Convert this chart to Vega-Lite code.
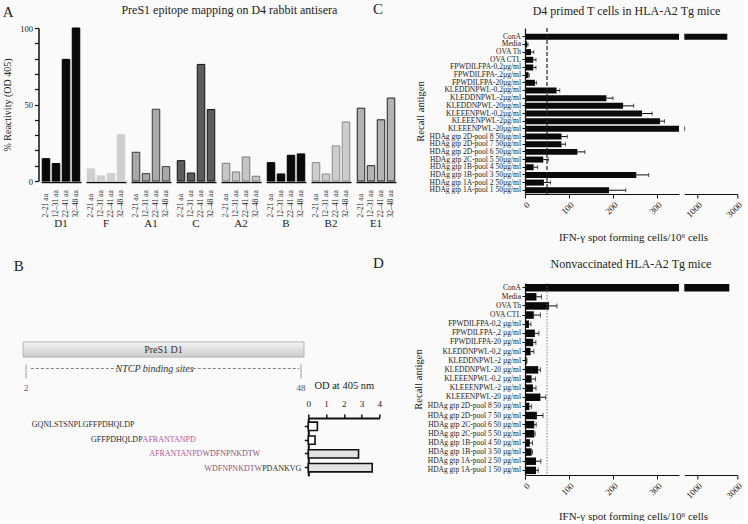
{
  "$schema": "https://vega.github.io/schema/vega-lite/v6.json",
  "background": "#fafafa",
  "padding": {"left": 2, "top": 2, "right": 0, "bottom": 0},
  "config": {
    "font": "Liberation Serif",
    "view": {"stroke": null},
    "axis": {"grid": false, "domainColor": "#111", "tickColor": "#111", "labelColor": "#222", "titleColor": "#222", "titleFontWeight": "normal", "labelFont": "Liberation Serif", "titleFont": "Liberation Serif"},
    "header": {"labelFont": "Liberation Serif", "titleFont": "Liberation Serif", "labelColor": "#222"},
    "title": {"font": "Liberation Serif", "fontWeight": "normal", "color": "#222"}
  },
  "datasets": {
    "A": [
      {"group": "D1", "fragment": "2–21 aa", "reactivity": 14.6},
      {"group": "D1", "fragment": "12–31 aa", "reactivity": 11.4},
      {"group": "D1", "fragment": "22–41 aa", "reactivity": 79.5},
      {"group": "D1", "fragment": "32–48 aa", "reactivity": 100},
      {"group": "F", "fragment": "2–21 aa", "reactivity": 7.9},
      {"group": "F", "fragment": "12–31 aa", "reactivity": 3.3},
      {"group": "F", "fragment": "22–41 aa", "reactivity": 4.8},
      {"group": "F", "fragment": "32–48 aa", "reactivity": 30.3},
      {"group": "A1", "fragment": "2–21 aa", "reactivity": 18.8},
      {"group": "A1", "fragment": "12–31 aa", "reactivity": 4.8},
      {"group": "A1", "fragment": "22–41 aa", "reactivity": 46.9},
      {"group": "A1", "fragment": "32–48 aa", "reactivity": 9.4},
      {"group": "C", "fragment": "2–21 aa", "reactivity": 13.3},
      {"group": "C", "fragment": "12–31 aa", "reactivity": 5.2},
      {"group": "C", "fragment": "22–41 aa", "reactivity": 76.2},
      {"group": "C", "fragment": "32–48 aa", "reactivity": 46.7},
      {"group": "A2", "fragment": "2–21 aa", "reactivity": 11.6},
      {"group": "A2", "fragment": "12–31 aa", "reactivity": 5.9},
      {"group": "A2", "fragment": "22–41 aa", "reactivity": 15.7},
      {"group": "A2", "fragment": "32–48 aa", "reactivity": 3.1},
      {"group": "B", "fragment": "2–21 aa", "reactivity": 12},
      {"group": "B", "fragment": "12–31 aa", "reactivity": 4.6},
      {"group": "B", "fragment": "22–41 aa", "reactivity": 16.8},
      {"group": "B", "fragment": "32–48 aa", "reactivity": 17.7},
      {"group": "B2", "fragment": "2–21 aa", "reactivity": 12},
      {"group": "B2", "fragment": "12–31 aa", "reactivity": 4.6},
      {"group": "B2", "fragment": "22–41 aa", "reactivity": 22.9},
      {"group": "B2", "fragment": "32–48 aa", "reactivity": 38.6},
      {"group": "E1", "fragment": "2–21 aa", "reactivity": 47.6},
      {"group": "E1", "fragment": "12–31 aa", "reactivity": 10},
      {"group": "E1", "fragment": "22–41 aa", "reactivity": 40},
      {"group": "E1", "fragment": "32–48 aa", "reactivity": 54.2}
    ],
    "peps": [
      {"peptide": "2–21", "seq": "GQNLSTSNPL", "side": "N", "boundary": 11.5, "motif": "other"},
      {"peptide": "2–21", "seq": "GFFPDHQLDP", "side": "C", "boundary": 11.5, "motif": "other"},
      {"peptide": "12–31", "seq": "GFFPDHQLDP", "side": "N", "boundary": 21.5, "motif": "other"},
      {"peptide": "12–31", "seq": "AFRANTANPD", "side": "C", "boundary": 21.5, "motif": "AFRANTANPD"},
      {"peptide": "22–41", "seq": "AFRANTANPD", "side": "N", "boundary": 31.5, "motif": "AFRANTANPD"},
      {"peptide": "22–41", "seq": "WDFNPNKDTW", "side": "C", "boundary": 31.5, "motif": "WDFNPNKDTW"},
      {"peptide": "32–48", "seq": "WDFNPNKDTW", "side": "N", "boundary": 41.5, "motif": "WDFNPNKDTW"},
      {"peptide": "32–48", "seq": "PDANKVG", "side": "C", "boundary": 41.5, "motif": "other"}
    ],
    "od": [
      {"peptide": "2–21", "od": 0.51},
      {"peptide": "12–31", "od": 0.38},
      {"peptide": "22–41", "od": 2.83},
      {"peptide": "32–48", "od": 3.6}
    ],
    "C": [
      {"antigen": "ConA", "ifn": 2500, "upper": null},
      {"antigen": "Media", "ifn": 5, "upper": 7},
      {"antigen": "OVA Th", "ifn": 13.6, "upper": 20},
      {"antigen": "OVA CTL", "ifn": 18.8, "upper": 25},
      {"antigen": "FPWDILFPA-0,2µg/ml", "ifn": 18.8, "upper": 25},
      {"antigen": "FPWDILFPA-,2µg/ml", "ifn": 8, "upper": 10},
      {"antigen": "FPWDILFPA-20µg/ml", "ifn": 22.6, "upper": 26},
      {"antigen": "KLEDDNPWL-0,2µg/ml", "ifn": 71.7, "upper": 79},
      {"antigen": "KLEDDNPWL-2µg/ml", "ifn": 185, "upper": 200},
      {"antigen": "KLEDDNPWL-20µg/ml", "ifn": 223, "upper": 247},
      {"antigen": "KLEEENPWL-0,2µg/ml", "ifn": 266, "upper": 289},
      {"antigen": "KLEEENPWL-2µg/ml", "ifn": 307, "upper": 317},
      {"antigen": "KLEEENPWL-20µg/ml", "ifn": 352, "upper": 365},
      {"antigen": "HDAg gtp 2D-pool 8 50µg/ml", "ifn": 83, "upper": 96},
      {"antigen": "HDAg gtp 2D-pool 7 50µg/ml", "ifn": 83, "upper": 92},
      {"antigen": "HDAg gtp 2D-pool 6 50µg/ml", "ifn": 119, "upper": 136},
      {"antigen": "HDAg gtp 2C-pool 5 50µg/ml", "ifn": 41.5, "upper": 53},
      {"antigen": "HDAg gtp 1B-pool 4 50µg/ml", "ifn": 19.6, "upper": 28.6},
      {"antigen": "HDAg gtp 1B-pool 3 50µg/ml", "ifn": 253, "upper": 281},
      {"antigen": "HDAg gtp 1A-pool 2 50µg/ml", "ifn": 43, "upper": 58},
      {"antigen": "HDAg gtp 1A-pool 1 50µg/ml", "ifn": 191, "upper": 229}
    ],
    "D": [
      {"antigen": "ConA", "ifn": 2600, "upper": null},
      {"antigen": "Media", "ifn": 26, "upper": 37.5},
      {"antigen": "OVA Th", "ifn": 54.7, "upper": 72.7},
      {"antigen": "OVA CTL", "ifn": 20, "upper": 35},
      {"antigen": "FPWDILFPA-0,2 µg/ml", "ifn": 9, "upper": 13.5},
      {"antigen": "FPWDILFPA-,2 µg/ml", "ifn": 22.5, "upper": 31.5},
      {"antigen": "FPWDILFPA-20 µg/ml", "ifn": 18.7, "upper": 24.7},
      {"antigen": "KLEDDNPWL-0,2 µg/ml", "ifn": 12.7, "upper": 20},
      {"antigen": "KLEDDNPWL-2 µg/ml", "ifn": 3.7, "upper": 4.5},
      {"antigen": "KLEDDNPWL-20 µg/ml", "ifn": 30, "upper": 35},
      {"antigen": "KLEEENPWL-0,2 µg/ml", "ifn": 15, "upper": 24},
      {"antigen": "KLEEENPWL-2 µg/ml", "ifn": 18, "upper": 25},
      {"antigen": "KLEEENPWL-20 µg/ml", "ifn": 35, "upper": 47},
      {"antigen": "HDAg gtp 2D-pool 8 50 µg/ml", "ifn": 10, "upper": 15},
      {"antigen": "HDAg gtp 2D-pool 7 50 µg/ml", "ifn": 27, "upper": 41},
      {"antigen": "HDAg gtp 2C-pool 6 50 µg/ml", "ifn": 21, "upper": 25.5},
      {"antigen": "HDAg gtp 2C-pool 5 50 µg/ml", "ifn": 21, "upper": 23},
      {"antigen": "HDAg gtp 1B-pool 4 50 µg/ml", "ifn": 11, "upper": 17},
      {"antigen": "HDAg gtp 1B-pool 3 50 µg/ml", "ifn": 15, "upper": 17},
      {"antigen": "HDAg gtp 1A-pool 2 50 µg/ml", "ifn": 25, "upper": 36},
      {"antigen": "HDAg gtp 1A-pool 1 50 µg/ml", "ifn": 25, "upper": 30}
    ]
  },
  "resolve": {"scale": {"color": "independent"}},
  "spacing": -23,
  "hconcat": [
    {
      "title": {"text": "A", "anchor": "start", "fontSize": 15, "offset": -16},
      "resolve": {"scale": {"color": "independent"}},
      "spacing": 30,
      "vconcat": [
        {
          "data": {"name": "A"},
          "title": {"text": "PreS1 epitope mapping on D4 rabbit antisera", "fontSize": 12, "anchor": "middle", "frame": "bounds", "dx": 30, "offset": 7},
          "facet": {"column": {"field": "group", "type": "nominal", "sort": ["D1", "F", "A1", "C", "A2", "B", "B2", "E1"], "header": {"title": null, "labelOrient": "bottom", "labelFontSize": 11, "labelPadding": 1, "labelExpr": "'— ' + datum.label + ' —'"}}},
          "spacing": 5,
          "spec": {
            "width": 40,
            "height": 153,
            "mark": {"type": "bar", "strokeWidth": 1},
            "encoding": {
              "x": {"field": "fragment", "type": "nominal", "sort": ["2–21 aa", "12–31 aa", "22–41 aa", "32–48 aa"], "scale": {"paddingInner": 0.25, "paddingOuter": 0.125}, "axis": {"title": null, "labelAngle": 270, "labelAlign": "left", "labelBaseline": "middle", "labelFontSize": 7.5, "ticks": false, "domainWidth": 1.5, "labelPadding": 35}},
              "y": {"field": "reactivity", "type": "quantitative", "scale": {"domain": [0, 100], "nice": false}, "axis": {"title": "% Reactivity (OD 405)", "titleFontSize": 10, "titlePadding": 7, "values": [0, 10, 20, 30, 40, 50, 60, 70, 80, 90, 100], "labelExpr": "datum.value % 50 === 0 ? datum.label : ''", "labelOverlap": false, "labelFontSize": 8.5, "labelPadding": 2, "tickSize": 4, "tickWidth": 1.2, "domainWidth": 1.5, "offset": 2.5}},
              "color": {"field": "group", "type": "nominal", "scale": {"domain": ["D1", "F", "A1", "C", "A2", "B", "B2", "E1"], "range": ["#0a0a0a", "#cfcfcf", "#a9a9a9", "#5c5c5c", "#c6c6c6", "#0a0a0a", "#cdcdcd", "#b3b3b3"]}, "legend": null},
              "stroke": {"field": "group", "type": "nominal", "scale": {"domain": ["D1", "F", "A1", "C", "A2", "B", "B2", "E1"], "range": ["#000000", "#cfcfcf", "#3a3a3a", "#111111", "#7a7a7a", "#000000", "#8a8a8a", "#222222"]}, "legend": null}
            }
          }
        },
        {
          "title": {"text": "B", "anchor": "start", "dx": -9, "fontSize": 15, "offset": 66},
          "resolve": {"scale": {"color": "independent"}},
          "spacing": -17,
          "vconcat": [
            {
              "width": 260,
              "height": 57,
              "layer": [
                {
                  "data": {"values": [{"track": "domain", "start": 1.5, "end": 48.5}]},
                  "mark": {"type": "rect", "fill": {"gradient": "linear", "x1": 0, "y1": 0, "x2": 0, "y2": 1, "stops": [{"offset": 0, "color": "#f3f3f3"}, {"offset": 1, "color": "#cccccc"}]}, "stroke": "#a8a8a8", "strokeWidth": 0.8},
                  "encoding": {
                    "x": {"field": "start", "type": "quantitative", "scale": {"domain": [4.5, 48], "nice": false, "zero": false}, "axis": null},
                    "x2": {"field": "end"},
                    "y": {"field": "track", "type": "nominal", "scale": {"domain": ["domain", "binding", "ends"], "paddingInner": 0.2, "paddingOuter": 0.1}, "axis": null}
                  }
                },
                {
                  "data": {"values": [{"track": "domain", "label": "PreS1 D1", "mid": 25}]},
                  "mark": {"type": "text", "fontSize": 10, "color": "#333"},
                  "encoding": {"x": {"field": "mid", "type": "quantitative"}, "y": {"field": "track", "type": "nominal"}, "text": {"field": "label"}}
                },
                {
                  "data": {"values": [{"track": "binding", "from": 2.8, "to": 17.2}, {"track": "binding", "from": 29.9, "to": 47.7}]},
                  "mark": {"type": "rule", "strokeDash": [3, 2], "color": "#666", "strokeWidth": 0.8},
                  "encoding": {"x": {"field": "from", "type": "quantitative"}, "x2": {"field": "to"}, "y": {"field": "track", "type": "nominal"}}
                },
                {
                  "data": {"values": [{"track": "binding", "label": "NTCP binding sites", "mid": 23.5}]},
                  "mark": {"type": "text", "fontSize": 10, "fontStyle": "italic", "color": "#333"},
                  "encoding": {"x": {"field": "mid", "type": "quantitative"}, "y": {"field": "track", "type": "nominal"}, "text": {"field": "label"}}
                },
                {
                  "data": {"values": [{"res": 2}, {"res": 48}]},
                  "mark": {"type": "tick", "orient": "vertical", "size": 14, "thickness": 1, "color": "#777", "yOffset": 3},
                  "encoding": {"x": {"field": "res", "type": "quantitative"}, "y": {"datum": "binding", "type": "nominal"}}
                },
                {
                  "data": {"values": [{"res": 2}, {"res": 48}]},
                  "mark": {"type": "text", "fontSize": 9, "color": "#555"},
                  "encoding": {"x": {"field": "res", "type": "quantitative"}, "y": {"datum": "ends", "type": "nominal"}, "text": {"field": "res"}}
                }
              ]
            },
            {
              "bounds": "flush",
              "spacing": 7.3,
              "resolve": {"scale": {"color": "independent"}},
              "hconcat": [
                {
                  "width": 260,
                  "height": 58,
                  "data": {"name": "peps"},
                  "encoding": {
                    "x": {"field": "boundary", "type": "quantitative", "scale": {"domain": [4.5, 48], "nice": false, "zero": false}, "axis": null},
                    "y": {"field": "peptide", "type": "nominal", "scale": {"domain": ["2–21", "12–31", "22–41", "32–48"], "paddingInner": 0.4, "paddingOuter": 0.3}, "axis": null},
                    "text": {"field": "seq"},
                    "color": {"field": "motif", "type": "nominal", "scale": {"domain": ["other", "AFRANTANPD", "WDFNPNKDTW"], "range": ["#2a2a2a", "#b8579c", "#8a5580"]}, "legend": null}
                  },
                  "layer": [
                    {"transform": [{"filter": "datum.side === 'N'"}], "mark": {"type": "text", "align": "right", "fontSize": 8}},
                    {"transform": [{"filter": "datum.side === 'C'"}], "mark": {"type": "text", "align": "left", "fontSize": 8}}
                  ]
                },
                {
                  "width": 71,
                  "height": 58,
                  "data": {"name": "od"},
                  "mark": {"type": "bar", "stroke": "#111", "strokeWidth": 1.6},
                  "encoding": {
                    "y": {"field": "peptide", "type": "nominal", "scale": {"domain": ["2–21", "12–31", "22–41", "32–48"], "paddingInner": 0.4, "paddingOuter": 0.3}, "axis": {"title": null, "labels": false, "tickSize": 4, "tickWidth": 1.5, "domainWidth": 2}},
                    "x": {"field": "od", "type": "quantitative", "scale": {"domain": [0, 4], "nice": false}, "axis": {"orient": "top", "title": "OD at 405 nm", "values": [0, 1, 2, 3, 4], "tickSize": 4, "tickWidth": 1.5, "domainWidth": 2, "labelFontSize": 9, "labelFlush": false, "titleFontSize": 10.5, "titlePadding": 9, "labelPadding": 6}},
                    "color": {"field": "peptide", "type": "nominal", "scale": {"domain": ["2–21", "12–31", "22–41", "32–48"], "range": ["#ffffff", "#ffffff", "#e2e2e2", "#e2e2e2"]}, "legend": null}
                  }
                }
              ]
            }
          ]
        }
      ]
    },
    {
      "spacing": 13,
      "vconcat": [
        {
          "bounds": "flush",
          "spacing": 5.3,
          "hconcat": [
            {
              "width": 154,
              "height": 166,
              "title": {"text": "C", "anchor": "start", "frame": "group", "dx": -152, "fontSize": 15, "offset": 10},
              "layer": [
                {
                  "data": {"name": "C"},
                  "mark": {"type": "bar", "color": "#0a0a0a", "clip": true},
                  "encoding": {
                    "x": {"field": "ifn", "type": "quantitative", "scale": {"domain": [0, 350], "nice": false}, "axis": {"values": [0, 100, 200, 300], "format": "d", "labelAngle": 315, "labelFontSize": 9, "labelOverlap": false, "labelFlush": false, "tickSize": 4, "title": "IFN-γ spot forming cells/10⁶ cells", "titleFontSize": 11, "titleX": 108, "titleY": 46, "titleBaseline": "alphabetic", "titleAlign": "center"}},
                    "y": {"field": "antigen", "type": "nominal", "scale": {"domain": ["ConA", "Media", "OVA Th", "OVA CTL", "FPWDILFPA-0,2µg/ml", "FPWDILFPA-,2µg/ml", "FPWDILFPA-20µg/ml", "KLEDDNPWL-0,2µg/ml", "KLEDDNPWL-2µg/ml", "KLEDDNPWL-20µg/ml", "KLEEENPWL-0,2µg/ml", "KLEEENPWL-2µg/ml", "KLEEENPWL-20µg/ml", "HDAg gtp 2D-pool 8 50µg/ml", "HDAg gtp 2D-pool 7 50µg/ml", "HDAg gtp 2D-pool 6 50µg/ml", "HDAg gtp 2C-pool 5 50µg/ml", "HDAg gtp 1B-pool 4 50µg/ml", "HDAg gtp 1B-pool 3 50µg/ml", "HDAg gtp 1A-pool 2 50µg/ml", "HDAg gtp 1A-pool 1 50µg/ml"], "paddingInner": 0.22, "paddingOuter": 0.4255, "align": 0.884}, "axis": {"title": "Recall antigen", "titleFontSize": 10.5, "titlePadding": 4, "labelFontSize": 7.5, "labelPadding": 1.5, "labelLimit": 0, "tickSize": 3, "domainWidth": 1.2}}
                  }
                },
                {
                  "data": {"name": "C"},
                  "transform": [{"filter": "datum.upper != null"}],
                  "mark": {"type": "rule", "color": "#111", "strokeWidth": 1, "clip": true},
                  "encoding": {"x": {"field": "ifn", "type": "quantitative"}, "x2": {"field": "upper"}, "y": {"field": "antigen", "type": "nominal"}}
                },
                {
                  "data": {"name": "C"},
                  "transform": [{"filter": "datum.upper != null"}],
                  "mark": {"type": "tick", "orient": "vertical", "color": "#111", "size": 4, "thickness": 1, "clip": true},
                  "encoding": {"x": {"field": "upper", "type": "quantitative"}, "y": {"field": "antigen", "type": "nominal"}}
                },
                {
                  "data": {"values": [{"threshold": 50}]},
                  "mark": {"type": "rule", "strokeDash": [4, 2], "color": "#222", "strokeWidth": 1.2},
                  "encoding": {"x": {"field": "threshold", "type": "quantitative"}}
                }
              ]
            },
            {
              "width": 53,
              "height": 166,
              "title": {"text": "D4 primed T cells in HLA-A2 Tg mice", "anchor": "end", "frame": "group", "dx": -17, "fontSize": 12, "offset": 10},
              "data": {"name": "C"},
              "layer": [
                {
                  "mark": {"type": "bar", "color": "#0a0a0a", "clip": true},
                  "encoding": {
                    "x": {"field": "ifn", "type": "quantitative", "scale": {"domain": [350, 3000], "nice": false, "zero": false}, "axis": {"values": [1000, 2000, 3000], "format": "d", "labelAngle": 315, "labelFontSize": 9, "labelOverlap": false, "labelFlush": false, "tickSize": 4, "title": null}},
                    "y": {"field": "antigen", "type": "nominal", "scale": {"domain": ["ConA", "Media", "OVA Th", "OVA CTL", "FPWDILFPA-0,2µg/ml", "FPWDILFPA-,2µg/ml", "FPWDILFPA-20µg/ml", "KLEDDNPWL-0,2µg/ml", "KLEDDNPWL-2µg/ml", "KLEDDNPWL-20µg/ml", "KLEEENPWL-0,2µg/ml", "KLEEENPWL-2µg/ml", "KLEEENPWL-20µg/ml", "HDAg gtp 2D-pool 8 50µg/ml", "HDAg gtp 2D-pool 7 50µg/ml", "HDAg gtp 2D-pool 6 50µg/ml", "HDAg gtp 2C-pool 5 50µg/ml", "HDAg gtp 1B-pool 4 50µg/ml", "HDAg gtp 1B-pool 3 50µg/ml", "HDAg gtp 1A-pool 2 50µg/ml", "HDAg gtp 1A-pool 1 50µg/ml"], "paddingInner": 0.22, "paddingOuter": 0.4255, "align": 0.884}, "axis": null}
                  }
                },
                {
                  "transform": [{"filter": "datum.upper != null"}],
                  "mark": {"type": "rule", "color": "#111", "strokeWidth": 1, "clip": true},
                  "encoding": {"x": {"field": "ifn", "type": "quantitative"}, "x2": {"field": "upper"}, "y": {"field": "antigen", "type": "nominal"}}
                },
                {
                  "transform": [{"filter": "datum.upper != null"}],
                  "mark": {"type": "tick", "orient": "vertical", "color": "#111", "size": 4, "thickness": 1, "clip": true},
                  "encoding": {"x": {"field": "upper", "type": "quantitative"}, "y": {"field": "antigen", "type": "nominal"}}
                }
              ]
            }
          ]
        },
        {
          "bounds": "flush",
          "spacing": 5.3,
          "hconcat": [
            {
              "width": 154,
              "height": 192,
              "title": {"text": "D", "anchor": "start", "frame": "group", "dx": -152, "fontSize": 15, "offset": 12},
              "layer": [
                {
                  "data": {"name": "D"},
                  "mark": {"type": "bar", "color": "#0a0a0a", "clip": true},
                  "encoding": {
                    "x": {"field": "ifn", "type": "quantitative", "scale": {"domain": [0, 350], "nice": false}, "axis": {"values": [0, 100, 200, 300], "format": "d", "labelAngle": 315, "labelFontSize": 9, "labelOverlap": false, "labelFlush": false, "tickSize": 4, "title": "IFN-γ spot forming cells/10⁶ cells", "titleFontSize": 11, "titleX": 108, "titleY": 44, "titleBaseline": "alphabetic", "titleAlign": "center"}},
                    "y": {"field": "antigen", "type": "nominal", "scale": {"domain": ["ConA", "Media", "OVA Th", "OVA CTL", "FPWDILFPA-0,2 µg/ml", "FPWDILFPA-,2 µg/ml", "FPWDILFPA-20 µg/ml", "KLEDDNPWL-0,2 µg/ml", "KLEDDNPWL-2 µg/ml", "KLEDDNPWL-20 µg/ml", "KLEEENPWL-0,2 µg/ml", "KLEEENPWL-2 µg/ml", "KLEEENPWL-20 µg/ml", "HDAg gtp 2D-pool 8 50 µg/ml", "HDAg gtp 2D-pool 7 50 µg/ml", "HDAg gtp 2C-pool 6 50 µg/ml", "HDAg gtp 2C-pool 5 50 µg/ml", "HDAg gtp 1B-pool 4 50 µg/ml", "HDAg gtp 1B-pool 3 50 µg/ml", "HDAg gtp 1A-pool 2 50 µg/ml", "HDAg gtp 1A-pool 1 50 µg/ml"], "paddingInner": 0.18, "paddingOuter": 0.1}, "axis": {"title": "Recall antigen", "titleFontSize": 10.5, "titlePadding": 4, "labelFontSize": 7.5, "labelPadding": 1.5, "labelLimit": 0, "tickSize": 3, "domainWidth": 1.2}}
                  }
                },
                {
                  "data": {"name": "D"},
                  "transform": [{"filter": "datum.upper != null"}],
                  "mark": {"type": "rule", "color": "#111", "strokeWidth": 1, "clip": true},
                  "encoding": {"x": {"field": "ifn", "type": "quantitative"}, "x2": {"field": "upper"}, "y": {"field": "antigen", "type": "nominal"}}
                },
                {
                  "data": {"name": "D"},
                  "transform": [{"filter": "datum.upper != null"}],
                  "mark": {"type": "tick", "orient": "vertical", "color": "#111", "size": 5, "thickness": 1, "clip": true},
                  "encoding": {"x": {"field": "upper", "type": "quantitative"}, "y": {"field": "antigen", "type": "nominal"}}
                },
                {
                  "data": {"values": [{"threshold": 50}]},
                  "mark": {"type": "rule", "strokeDash": [1.5, 1.5], "color": "#666", "strokeWidth": 0.8},
                  "encoding": {"x": {"field": "threshold", "type": "quantitative"}}
                }
              ]
            },
            {
              "width": 53,
              "height": 192,
              "title": {"text": "Nonvaccinated HLA-A2 Tg mice", "anchor": "end", "frame": "group", "dx": -26, "fontSize": 12, "offset": 12},
              "data": {"name": "D"},
              "layer": [
                {
                  "mark": {"type": "bar", "color": "#0a0a0a", "clip": true},
                  "encoding": {
                    "x": {"field": "ifn", "type": "quantitative", "scale": {"domain": [350, 3000], "nice": false, "zero": false}, "axis": {"values": [1000, 2000, 3000], "format": "d", "labelAngle": 315, "labelFontSize": 9, "labelOverlap": false, "labelFlush": false, "tickSize": 4, "title": null}},
                    "y": {"field": "antigen", "type": "nominal", "scale": {"domain": ["ConA", "Media", "OVA Th", "OVA CTL", "FPWDILFPA-0,2 µg/ml", "FPWDILFPA-,2 µg/ml", "FPWDILFPA-20 µg/ml", "KLEDDNPWL-0,2 µg/ml", "KLEDDNPWL-2 µg/ml", "KLEDDNPWL-20 µg/ml", "KLEEENPWL-0,2 µg/ml", "KLEEENPWL-2 µg/ml", "KLEEENPWL-20 µg/ml", "HDAg gtp 2D-pool 8 50 µg/ml", "HDAg gtp 2D-pool 7 50 µg/ml", "HDAg gtp 2C-pool 6 50 µg/ml", "HDAg gtp 2C-pool 5 50 µg/ml", "HDAg gtp 1B-pool 4 50 µg/ml", "HDAg gtp 1B-pool 3 50 µg/ml", "HDAg gtp 1A-pool 2 50 µg/ml", "HDAg gtp 1A-pool 1 50 µg/ml"], "paddingInner": 0.18, "paddingOuter": 0.1}, "axis": null}
                  }
                },
                {
                  "transform": [{"filter": "datum.upper != null"}],
                  "mark": {"type": "rule", "color": "#111", "strokeWidth": 1, "clip": true},
                  "encoding": {"x": {"field": "ifn", "type": "quantitative"}, "x2": {"field": "upper"}, "y": {"field": "antigen", "type": "nominal"}}
                },
                {
                  "transform": [{"filter": "datum.upper != null"}],
                  "mark": {"type": "tick", "orient": "vertical", "color": "#111", "size": 5, "thickness": 1, "clip": true},
                  "encoding": {"x": {"field": "upper", "type": "quantitative"}, "y": {"field": "antigen", "type": "nominal"}}
                }
              ]
            }
          ]
        }
      ]
    }
  ]
}
